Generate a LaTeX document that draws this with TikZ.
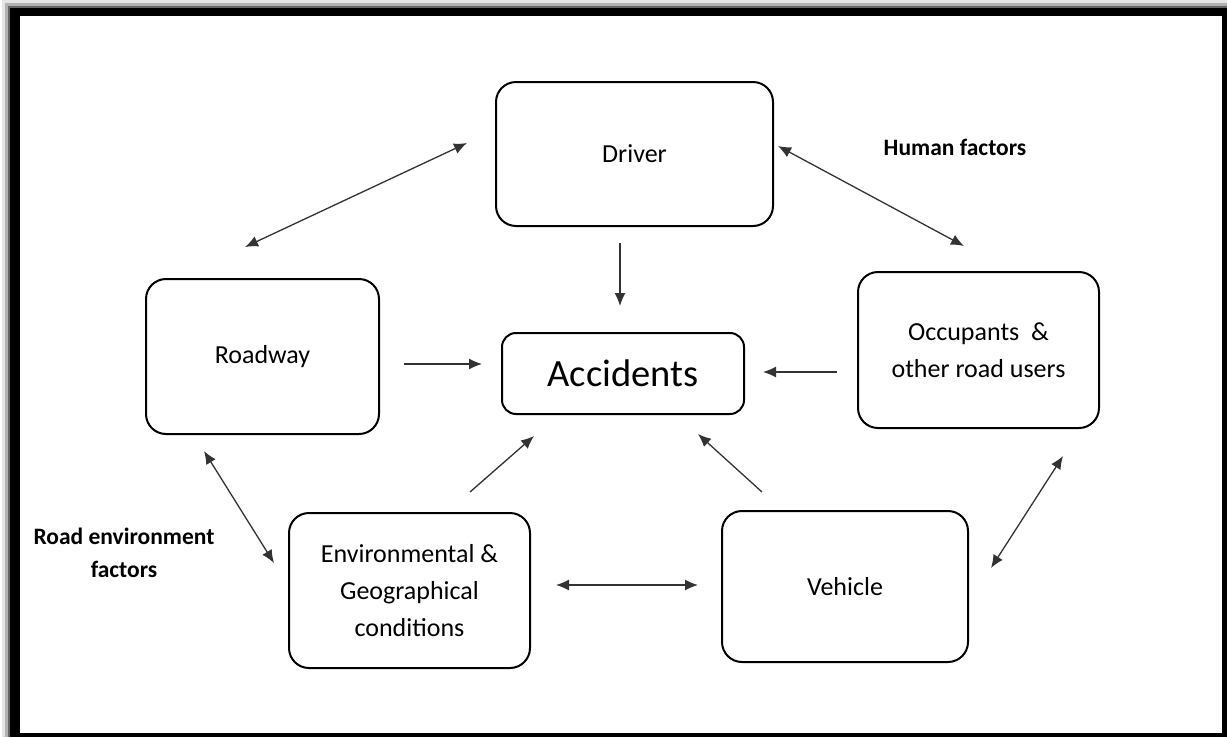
\documentclass[tikz,border=0pt]{standalone}
\usepackage{fontspec}
\setmainfont{Carlito}
\usetikzlibrary{positioning,arrows.meta}

\begin{document}
\begin{tikzpicture}[x=1pt, y=-1pt, >={Latex[length=13pt,width=11pt]},
    block/.style={draw, rectangle, rounded corners=20pt, line width=2pt, align=center, inner sep=0pt, font=\fontsize{26}{37}\selectfont},
    link/.style={line width=1.3pt, draw=black!80},
    note/.style={align=center, font=\bfseries\fontsize{23.5}{33}\selectfont}]
    % Frame
    \fill[white] (0,0) rectangle (1227,737);
    \fill[black!10] (2,0) rectangle (1227,737);
    \fill[black!30] (5,3) rectangle (1227,737);
    \fill[black!60] (8,6) rectangle (1227,737);
    \fill[black] (10,8) rectangle (1227,737);
    \fill[white] (20,16) rectangle (1222,733);

    % Nodes
    \node (acc) at (623,373.5) [block, rounded corners=14pt, minimum width=242pt, minimum height=81pt, font=\fontsize{38.5}{40}\selectfont] {Accidents};
    \node (driver) [above=105pt of acc, xshift=11.5pt, block, minimum width=277pt, minimum height=144pt] {Driver};
    \node (road) [left=121pt of acc, yshift=17pt, block, minimum width=233pt, minimum height=155pt] {Roadway};
    \node (occ) [right=112pt of acc, yshift=23.5pt, block, minimum width=241pt, minimum height=156pt] {Occupants\ \ \&\\other road users};
    \node (env) [below=77pt of road, xshift=147pt, block, minimum width=241pt, minimum height=155pt] {Environmental \&\\Geographical\\conditions};
    \node (veh) [right=190pt of env, yshift=4pt, block, minimum width=246pt, minimum height=151pt] {Vehicle};
    \node (human) at (955,147) [note] {Human factors};
    \node (roadenv) at (124,553) [note] {Road environment\\factors};

    % Arrows
    \draw[link, ->] ([xshift=-14.5pt,yshift=-16pt]driver.south) -- ([xshift=-3pt,yshift=26pt]acc.north);
    \draw[link, ->] ([xshift=24pt,yshift=-7.5pt]road.east) -- ([xshift=-19pt,yshift=9.5pt]acc.west);
    \draw[link, ->] ([xshift=-20pt,yshift=-22pt]occ.west) -- ([xshift=18pt,yshift=1.5pt]acc.east);
    \draw[link, ->] ([xshift=-61pt,yshift=20pt]env.north east) -- ([xshift=33pt,yshift=-21pt]acc.south west);
    \draw[link, ->] ([xshift=41pt,yshift=18pt]veh.north west) -- ([xshift=-47pt,yshift=-19pt]acc.south east);
    \draw[link, <->] ([xshift=-28pt,yshift=11pt]driver.west) -- ([xshift=-17.5pt,yshift=31pt]road.north);
    \draw[link, <->] ([xshift=4pt,yshift=8pt]driver.east) -- ([xshift=-14.5pt,yshift=25pt]occ.north);
    \draw[link, <->] ([xshift=-58.5pt,yshift=-16pt]road.south) -- ([xshift=-14pt,yshift=27.5pt]env.west);
    \draw[link, <->] ([xshift=25pt,yshift=5.5pt]env.east) -- ([xshift=-23pt,yshift=1.5pt]veh.west);
    \draw[link, <->] ([xshift=84.5pt,yshift=-27pt]occ.south) -- ([xshift=22pt,yshift=18.5pt]veh.east);
\end{tikzpicture}
\end{document}
